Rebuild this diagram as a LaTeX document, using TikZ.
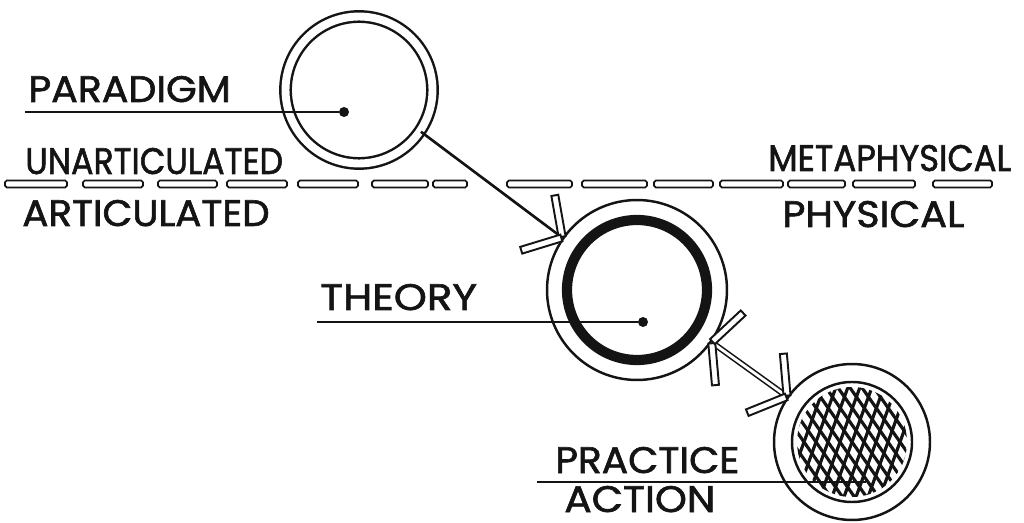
\documentclass[tikz,border=0pt]{standalone}
\usepackage{fontspec}
\setmainfont{Poppins}
\newfontfamily\handfont{Poppins}[FakeBold=1.6]
\usepackage{tikz}
\usetikzlibrary{positioning, calc}
\definecolor{ink}{RGB}{20,20,20}
\newcommand{\squeeze}[2]{\scalebox{#1}[1]{#2}}
\tikzset{
  lbl/.style={anchor=base west, inner sep=0pt, font=\handfont\fontsize{21}{21}\selectfont, text=ink},
  ring/.style={circle, draw=ink, inner sep=0pt, line width=1.4pt},
  dot/.style={circle, fill=ink, inner sep=0pt, minimum size=0.2cm},
  uline/.style={line width=1pt, color=ink},
  shaft/.style={line width=1.5pt, color=ink},
  dshaft/.style={double=white, double distance=1.6pt, line width=0.9pt, draw=ink},
  fin/.style={draw=ink, fill=white, rectangle, anchor=west, inner sep=0pt,
    minimum width=0.84cm, minimum height=0.14cm, line width=1.1pt},
  dashbox/.style={draw=ink, line width=1pt, rounded corners=1pt},
  hatch/.style={line width=1.8pt, color=ink}
}

\begin{document}
\begin{tikzpicture}[x=0.02cm, y=-0.02cm]
    \useasboundingbox (0,0) rectangle (1024,523);

    % the divide
    \foreach \a/\b in {5/67, 83/143, 158/217, 227/287, 298/358, 372/428, 433/467,
        507/572, 582/647, 654/713, 720/783, 788/845, 853/915, 933/992}
      \draw[dashbox] (\a,180.5) rectangle (\b,187.5);
    \node[lbl] (unart) at (25,174) {\squeeze{0.9}{UNARTICULATED}};
    \node[lbl] (art) at (22,226) {\squeeze{1.05}{ARTICULATED}};
    \node[lbl] (meta) at (768,171) {\squeeze{0.92}{METAPHYSICAL}};
    \node[lbl] (phys) at (782,227) {\squeeze{1.08}{PHYSICAL}};

    % paradigm
    \node[ring, double=white, double distance=4.5pt, minimum size=2.94cm] (par) at (359,90) {};
    \node[dot] (pardot) at (344,112) {};
    \coordinate (parl) at (25,112);
    \draw[uline] (parl) -- (pardot);
    \node[lbl] (paradigm) at (28,102) {\squeeze{1.07}{PARADIGM}};

    % theory
    \node[ring, minimum size=3.6cm] (th) at (637,290) {};
    \draw[ink, line width=5.8pt] (th.center) circle (70);
    \node[dot] (thdot) at (643,322) {};
    \coordinate (thl) at (317,322);
    \draw[uline] (thl) -- (thdot);
    \node[lbl] (theory) at (320,310) {\squeeze{1.14}{THEORY}};

    % practice
    \node[ring, minimum size=3.12cm] (pr) at (852,442) {};
    \draw[ink, line width=1.4pt] (pr.center) circle (60);
    \begin{scope}[shift={(pr.center)}, x=0.02cm, y=0.02cm]
      \clip (0,0) circle (55);
      \foreach \i in {-10,...,10} {
        \draw[hatch] (\i*12,0) ++(70:-90) -- ++(70:180);
        \draw[hatch] (\i*12,0) ++(-55:-90) -- ++(-55:180);
      }
    \end{scope}
    \coordinate (prend) at (866,482);
    \coordinate (prl) at (537,482);
    \draw[uline] (prl) -- (prend);
    \node[lbl] (practice) at (555,473) {\squeeze{1.06}{PRACTICE}};
    \node[lbl] (action) at (564,512) {\squeeze{1.1}{ACTION}};

    % connectors
    \draw[shaft] (par.-34) -- (th.145);
    \node[fin, rotate=100] at (th.145) {};
    \node[fin, rotate=197] at (th.145) {};
    \draw[dshaft] (th.-35) -- (pr.145);
    \node[fin, rotate=275] at (th.-35) {};
    \node[fin, rotate=43] at (th.-35) {};
    \node[fin, rotate=95] at (pr.145) {};
    \node[fin, rotate=202] at (pr.145) {};
\end{tikzpicture}
\end{document}
